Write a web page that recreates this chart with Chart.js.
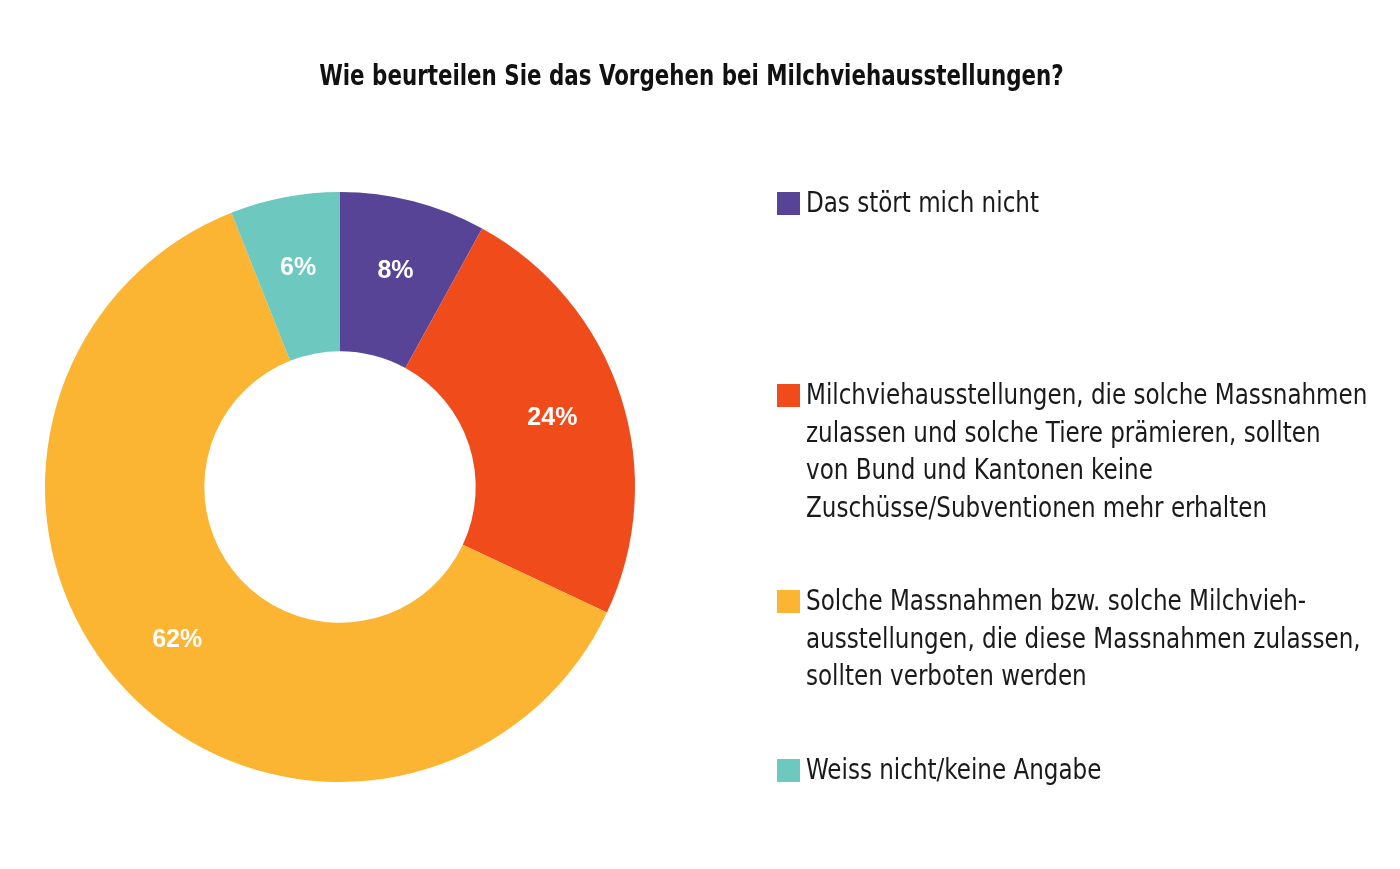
<!DOCTYPE html>
<html><head><meta charset="utf-8">
<script src="https://cdn.jsdelivr.net/npm/chart.js@4/dist/chart.umd.min.js"></script>
<style>
html,body{margin:0;padding:0;background:#fff;}
#wrap{position:relative;width:1400px;height:869px;overflow:hidden;}
#c{position:absolute;left:0;top:0;}
#title{position:absolute;left:0;width:1383px;top:58px;text-align:center;font-family:"Liberation Sans Narrow","DejaVu Sans Condensed",sans-serif;font-weight:bold;font-size:29px;color:#111;transform:scaleX(0.82);transform-origin:691px 0;}
.leg{position:absolute;left:777px;font-family:"Liberation Sans Narrow","DejaVu Sans Condensed",sans-serif;font-size:28px;line-height:37.5px;color:#1a1a1a;}
.leg .box{position:absolute;left:0;top:8px;width:23px;height:23px;}
.leg .txt{margin-left:29px;white-space:nowrap;transform:scaleX(0.915);transform-origin:0 0;}
</style></head>
<body><div id="wrap"><canvas id="c" width="1400" height="869"></canvas>
<div id="title"></div><div id="legend"></div></div>
<script>
const title = "Wie beurteilen Sie das Vorgehen bei Milchviehausstellungen?";
const categories = [
  ["Das stört mich nicht"],
  ["Milchviehausstellungen, die solche Massnahmen","zulassen und solche Tiere prämieren, sollten","von Bund und Kantonen keine","Zuschüsse/Subventionen mehr erhalten"],
  ["Solche Massnahmen bzw. solche Milchvieh-","ausstellungen, die diese Massnahmen zulassen,","sollten verboten werden"],
  ["Weiss nicht/keine Angabe"]
];
const values = [8, 24, 62, 6];
const valueLabels = ["8%", "24%", "62%", "6%"];
const colors = ["#574497", "#F04B1B", "#FBB533", "#6DC9BF"];
const legendTops = [184, 376, 582, 751];

document.getElementById('title').textContent = title;
const lg = document.getElementById('legend');
categories.forEach((lines, i) => {
  const d = document.createElement('div'); d.className = 'leg'; d.style.top = legendTops[i] + 'px';
  const b = document.createElement('div'); b.className = 'box'; b.style.background = colors[i];
  const t = document.createElement('div'); t.className = 'txt';
  lines.forEach((l, j) => { if (j) t.appendChild(document.createElement('br')); t.appendChild(document.createTextNode(l)); });
  d.appendChild(b); d.appendChild(t); lg.appendChild(d);
});

const labelPlugin = {
  id: 'valLabels',
  afterDatasetsDraw(chart) {
    const ctx = chart.ctx;
    const meta = chart.getDatasetMeta(0);
    ctx.save();
    ctx.fillStyle = '#fff';
    ctx.font = 'bold 25px "Liberation Sans", Arial, sans-serif';
    ctx.textAlign = 'center'; ctx.textBaseline = 'middle';
    meta.data.forEach((arc, i) => {
      const p = arc.getProps(['x','y','startAngle','endAngle','innerRadius','outerRadius'], true);
      const a = (p.startAngle + p.endAngle) / 2;
      const r = p.innerRadius + (p.outerRadius - p.innerRadius) * 0.55;
      ctx.fillText(valueLabels[i], p.x + Math.cos(a) * r, p.y + Math.sin(a) * r);
    });
    ctx.restore();
  }
};

new Chart(document.getElementById('c'), {
  type: 'doughnut',
  data: { labels: categories.map(l => l.join(' ')), datasets: [{ data: values, backgroundColor: colors, borderWidth: 0 }] },
  options: {
    responsive: false, animation: false, cutout: '46%',
    layout: { padding: { left: 45, right: 765, top: 192, bottom: 87 } },
    plugins: { legend: { display: false }, tooltip: { enabled: false }, title: { display: false } }
  },
  plugins: [labelPlugin]
});
</script></body></html>
